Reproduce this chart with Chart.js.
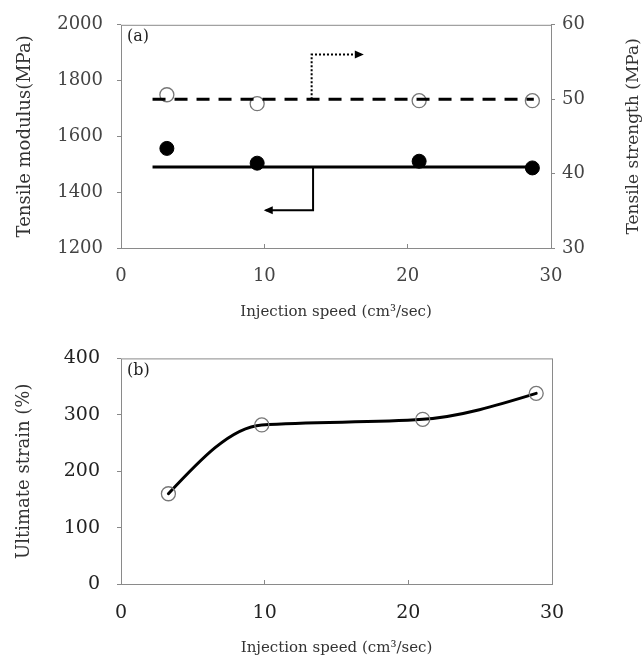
<!DOCTYPE html>
<html>
<head>
<meta charset="utf-8">
<script src="https://cdn.jsdelivr.net/npm/chart.js@4"></script>
<style>
  body { margin: 0; background: #fff; }
  #wrapA { position: absolute; left: 0; top: 0; width: 644px; height: 330px; }
  #wrapB { position: absolute; left: 0; top: 330px; width: 644px; height: 327px; }
</style>
</head>
<body>
<div id="wrapA"><canvas id="chartA" width="644" height="330"></canvas></div>
<div id="wrapB"><canvas id="chartB" width="644" height="327"></canvas></div>
<script>
// (a) tensile properties
const speedA = [3.2, 9.5, 20.8, 28.7];
const modulus = [1557, 1504, 1511, 1487];
const strength = [50.6, 49.4, 49.8, 49.8];
const meanSpan = [2.2, 28.8];
const modulusMean = 1490;
const strengthMean = 50;
// arrow paths pointing to the axis each line belongs to
const modulusArrowX = [13.4, 13.4, 10.1];
const modulusArrowY = [1490, 1335, 1335];
const strengthArrowX = [13.3, 13.3, 16.8];
const strengthArrowY = [50, 56, 56];

// (b) ultimate strain
const speedB = [3.3, 9.8, 21.0, 28.9];
const strain = [160, 282, 292, 338];

const serif = '"DejaVu Serif", "Liberation Serif", serif';

function pts(xs, ys) {
  return xs.map((x, i) => ({ x: x, y: ys[i] }));
}
const plain = v => String(v);

const frame = {
  id: 'frame',
  afterDraw(chart) {
    const a = chart.chartArea, ctx = chart.ctx;
    ctx.save();
    ctx.strokeStyle = '#8a8a8a';
    ctx.lineWidth = 1;
    ctx.strokeRect(a.left + 0.5, a.top + 0.5, a.right - a.left, a.bottom - a.top);
    ctx.fillStyle = '#222';
    ctx.font = '16px ' + serif;
    ctx.textBaseline = 'middle';
    ctx.fillText(chart.options.panelLabel, a.left + 6, a.top + 12);
    ctx.restore();
  }
};

const arrowHeads = {
  id: 'arrowHeads',
  afterDatasetsDraw(chart) {
    const ctx = chart.ctx;
    chart.data.datasets.forEach((ds, i) => {
      if (!ds.arrow) return;
      const els = chart.getDatasetMeta(i).data;
      const p = els[els.length - 1], q = els[els.length - 2];
      const ang = Math.atan2(p.y - q.y, p.x - q.x);
      ctx.save();
      ctx.translate(p.x, p.y);
      ctx.rotate(ang);
      ctx.fillStyle = '#000';
      ctx.beginPath();
      ctx.moveTo(2, 0);
      ctx.lineTo(-7, -4);
      ctx.lineTo(-7, 4);
      ctx.closePath();
      ctx.fill();
      ctx.restore();
    });
  }
};

const rightTitle = {
  id: 'rightTitle',
  afterDraw(chart) {
    const a = chart.chartArea, ctx = chart.ctx;
    ctx.save();
    ctx.translate(634, (a.top + a.bottom) / 2);
    ctx.rotate(-Math.PI / 2);
    ctx.fillStyle = '#333';
    ctx.font = '17px ' + serif;
    ctx.textAlign = 'center';
    ctx.textBaseline = 'middle';
    ctx.fillText('Tensile strength (MPa)', 0, 0);
    ctx.restore();
  }
};

// smooth monotone curve through the point elements (steffen-style tangents)
const smoothCurve = {
  id: 'smoothCurve',
  beforeDatasetsDraw(chart) {
    const ctx = chart.ctx;
    chart.data.datasets.forEach((ds, i) => {
      if (!ds.smooth) return;
      const p = chart.getDatasetMeta(i).data.map(e => ({ x: e.x, y: e.y }));
      const n = p.length;
      const s = [];
      for (let k = 0; k < n - 1; k++) s.push((p[k + 1].y - p[k].y) / (p[k + 1].x - p[k].x));
      const t = new Array(n);
      for (let k = 1; k < n - 1; k++) {
        const h0 = p[k].x - p[k - 1].x, h1 = p[k + 1].x - p[k].x;
        const a = s[k - 1], b = s[k];
        const q = (a * h1 + b * h0) / (h0 + h1);
        t[k] = (Math.sign(a) + Math.sign(b)) * Math.min(Math.abs(a), Math.abs(b), 0.5 * Math.abs(q)) || 0;
      }
      t[0] = (3 * s[0] - t[1]) / 2;
      t[n - 1] = (3 * s[n - 2] - t[n - 2]) / 2;
      ctx.save();
      ctx.strokeStyle = ds.curveColor;
      ctx.lineWidth = ds.curveWidth;
      ctx.lineJoin = 'round';
      ctx.lineCap = 'round';
      ctx.beginPath();
      ctx.moveTo(p[0].x, p[0].y);
      for (let k = 0; k < n - 1; k++) {
        const dx = (p[k + 1].x - p[k].x) / 3;
        ctx.bezierCurveTo(p[k].x + dx, p[k].y + dx * t[k],
                          p[k + 1].x - dx, p[k + 1].y - dx * t[k + 1],
                          p[k + 1].x, p[k + 1].y);
      }
      ctx.stroke();
      ctx.restore();
    });
  }
};

new Chart(document.getElementById('chartA'), {
  type: 'line',
  data: {
    datasets: [
      {
        data: pts(meanSpan, [strengthMean, strengthMean]), yAxisID: 'y2',
        borderColor: '#000', borderWidth: 3, borderDash: [13, 9], pointRadius: 0
      },
      {
        data: pts(meanSpan, [modulusMean, modulusMean]), yAxisID: 'y',
        borderColor: '#000', borderWidth: 3, pointRadius: 0
      },
      {
        data: pts(modulusArrowX, modulusArrowY), yAxisID: 'y', arrow: true,
        borderColor: '#000', borderWidth: 2, pointRadius: 0
      },
      {
        data: pts(strengthArrowX, strengthArrowY), yAxisID: 'y2', arrow: true,
        borderColor: '#000', borderWidth: 2, borderDash: [2, 2], pointRadius: 0
      },
      {
        data: pts(speedA, modulus), yAxisID: 'y', showLine: false,
        pointRadius: 7, pointBackgroundColor: '#000', pointBorderColor: '#000'
      },
      {
        data: pts(speedA, strength), yAxisID: 'y2', showLine: false,
        pointRadius: 7, pointBorderWidth: 1.3,
        pointBackgroundColor: 'rgba(0,0,0,0)', pointBorderColor: '#777'
      }
    ]
  },
  options: {
    responsive: false,
    animation: false,
    events: [],
    panelLabel: '(a)',
    layout: { padding: { top: 22, left: 0, right: 0, bottom: 0 } },
    plugins: { legend: { display: false }, tooltip: { enabled: false } },
    scales: {
      x: {
        type: 'linear', position: 'bottom', min: 0, max: 30,
        ticks: { stepSize: 10, callback: plain, font: { family: serif, size: 18 }, color: '#444', padding: 22 },
        grid: { drawOnChartArea: false, tickLength: -4, color: '#888' },
        border: { display: false },
        title: {
          display: true, text: 'Injection speed (cm³/sec)', color: '#333',
          font: { family: serif, size: 15 }, padding: { top: 9, bottom: 9 }
        },
        afterFit(s) { s.height = 82; }
      },
      y: {
        position: 'left', min: 1200, max: 2000,
        ticks: { stepSize: 200, callback: plain, font: { family: serif, size: 18 }, color: '#444', padding: 14 },
        grid: { drawOnChartArea: false, tickLength: 4, color: '#888' },
        border: { display: false },
        title: {
          display: true, text: 'Tensile modulus(MPa)', color: '#333',
          font: { family: serif, size: 18 }, padding: { top: 15, bottom: 15 }
        },
        afterFit(s) { s.width = 121; }
      },
      y2: {
        position: 'right', min: 30, max: 60,
        ticks: { stepSize: 10, callback: plain, font: { family: serif, size: 18 }, color: '#444', padding: 7 },
        grid: { drawOnChartArea: false, tickLength: 4, color: '#888' },
        border: { display: false },
        afterFit(s) { s.width = 93; }
      }
    }
  },
  plugins: [frame, arrowHeads, rightTitle]
});

new Chart(document.getElementById('chartB'), {
  type: 'line',
  data: {
    datasets: [
      {
        data: pts(speedB, strain), showLine: false,
        smooth: true, curveColor: '#000', curveWidth: 3,
        pointRadius: 7, pointBorderWidth: 1.3,
        pointBackgroundColor: 'rgba(0,0,0,0)', pointBorderColor: '#777'
      }
    ]
  },
  options: {
    responsive: false,
    animation: false,
    events: [],
    panelLabel: '(b)',
    layout: { padding: { top: 28, left: 0, right: 92, bottom: 0 } },
    plugins: { legend: { display: false }, tooltip: { enabled: false } },
    scales: {
      x: {
        type: 'linear', position: 'bottom', min: 0, max: 30,
        ticks: { stepSize: 10, callback: plain, font: { family: serif, size: 19 }, color: '#222', padding: 22 },
        grid: { drawOnChartArea: false, tickLength: -4, color: '#888' },
        border: { display: false },
        title: {
          display: true, text: 'Injection speed (cm³/sec)', color: '#333',
          font: { family: serif, size: 15 }, padding: { top: 0, bottom: 0 }
        },
        afterFit(s) { s.height = 73; }
      },
      y: {
        position: 'left', min: 0, max: 400,
        ticks: { stepSize: 100, callback: plain, font: { family: serif, size: 19 }, color: '#222', padding: 17 },
        grid: { drawOnChartArea: false, tickLength: 4, color: '#888' },
        border: { display: false },
        title: {
          display: true, text: 'Ultimate strain (%)', color: '#333',
          font: { family: serif, size: 18 }, padding: { top: 14, bottom: 14 }
        },
        afterFit(s) { s.width = 121; }
      }
    }
  },
  plugins: [frame, smoothCurve]
});
</script>
</body>
</html>
